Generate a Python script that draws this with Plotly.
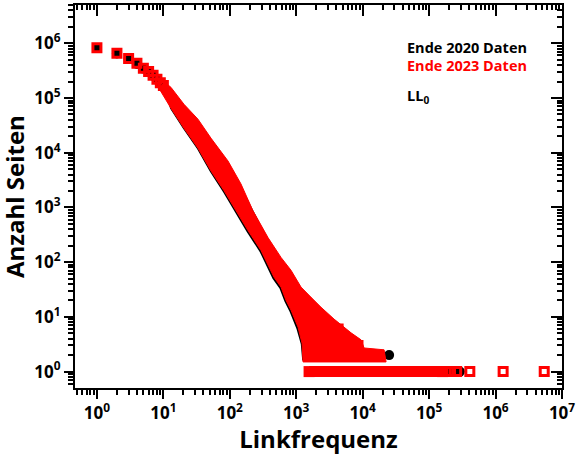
import plotly.graph_objects as go

# Linkfrequenz-Verteilung: Kopf der Verteilung (Einzelpunkte)
head_freq = [1, 2, 3, 4, 5, 6, 7, 8, 9, 10]
head_2020 = [8.2e5, 6.5e5, 5.2e5, 4.2e5, 3.45e5, 3.0e5, 2.55e5, 2.15e5, 1.85e5, 1.6e5]
head_2023 = [8.3e5, 6.6e5, 5.3e5, 4.3e5, 3.5e5, 3.05e5, 2.6e5, 2.2e5, 1.9e5, 1.7e5]

# dichte Punktwolke 2023: obere und untere Kante
band23_upper_x = [10.2, 13, 20.4, 33.2, 52, 94, 147, 223, 376, 590, 835, 1180, 1670, 2360,
                  3710, 4730, 6690, 9460, 10500, 21000, 22500]
band23_upper_y = [2.0e5, 1.57e5, 7.7e4, 4.1e4, 1.85e4, 7060, 2700, 871, 281, 122, 71, 35, 22.8, 15,
                  9.1, 7.1, 5.1, 3.8, 2.7, 2.5, 1.5]
band23_lower_x = [8.6, 13, 20.4, 33, 52, 82, 116, 188, 295, 463, 590, 702, 835, 1064, 1222, 1265]
band23_lower_y = [1.5e5, 6.5e4, 2.8e4, 1.22e4, 4650, 2010, 988, 377, 163, 53, 35, 20, 13.2, 6.5, 3.3, 1.5]

# dichte Punktwolke 2020: obere und untere Kante
band20_upper_x = [10, 30, 100, 300, 1000, 3000, 10000, 20000]
band20_upper_y = [1.9e5, 4.5e4, 6000, 450, 30, 6, 2.6, 1.6]
band20_lower_x = [12.6, 19.8, 32, 50.5, 79, 112, 180, 282, 440, 560, 668, 795, 1010, 1170, 1230]
band20_lower_y = [6.4e4, 2.75e4, 1.18e4, 4450, 1920, 940, 357, 154, 50, 33, 18.8, 12.4, 6, 3.2, 1.6]

# Seiten mit genau einer Verlinkung (Zeile y=1) und Einzelpunkte im Schwanz
row1_2020_x = [1700, 2.9e5]
row1_2023_x = [1560, 1.6e5]
tail_2020_x = [2.5e4, 1.8e5, 2.1e5, 2.9e5]
tail_2020_y = [2, 1, 1, 1]
tail_2023_x = [4270, 8500, 1.8e5, 2.1e5, 2.6e5, 4.1e5, 1.3e6, 5.4e6]
tail_2023_y = [6, 3, 1, 1, 1, 1, 1, 1]

x_ticks = [10 ** e for e in range(0, 8)]
x_ticktext = [f"10<sup>{e}</sup>" for e in range(0, 8)]
y_ticks = [10 ** e for e in range(0, 7)]
y_ticktext = [f"10<sup>{e}</sup>" for e in range(0, 7)]

RED = "#ff0000"
BLACK = "#000000"
FONT = "Open Sans"


def minor_vals(lo, hi):
    return [m * 10 ** e for e in range(lo, hi) for m in range(2, 10)]


fig = go.Figure()

# --- 2020 (schwarz) ---
fig.add_trace(go.Scatter(
    x=band20_upper_x + band20_lower_x[::-1],
    y=band20_upper_y + band20_lower_y[::-1],
    fill="toself", fillcolor=BLACK, mode="lines", line=dict(width=0, color=BLACK),
    hoverinfo="skip", showlegend=False,
))
fig.add_trace(go.Scatter(
    x=row1_2020_x, y=[1] * len(row1_2020_x), mode="lines",
    line=dict(color=BLACK, width=9), showlegend=False,
))
fig.add_trace(go.Scatter(
    x=head_freq + tail_2020_x, y=head_2020 + tail_2020_y, mode="markers",
    marker=dict(symbol="circle", size=10, color=BLACK), showlegend=False,
))

# --- 2023 (rot, offene Quadrate) ---
fig.add_trace(go.Scatter(
    x=band23_upper_x + band23_lower_x[::-1],
    y=band23_upper_y + band23_lower_y[::-1],
    fill="toself", fillcolor=RED, mode="lines", line=dict(width=1, color=RED),
    hoverinfo="skip", showlegend=False,
))
fig.add_trace(go.Scatter(
    x=row1_2023_x, y=[1] * len(row1_2023_x), mode="lines+markers",
    line=dict(color=RED, width=11),
    marker=dict(symbol="square", size=11, color=RED),
    showlegend=False,
))
fig.add_trace(go.Scatter(
    x=head_freq + tail_2023_x, y=head_2023 + tail_2023_y, mode="markers",
    marker=dict(symbol="square-open", size=8, color=RED, line=dict(width=3, color=RED)),
    showlegend=False,
))

# leere Spur fuer die Gegenachsen (Ticks innen oben/rechts)
fig.add_trace(go.Scatter(x=[], y=[], xaxis="x2", yaxis="y2", showlegend=False))

x_range = [-0.33, 7.0]
y_range = [-0.30, 6.70]
tick_font = dict(family=FONT, size=17, color=BLACK, weight="bold")
title_font = dict(family=FONT, size=24, color=BLACK, weight="bold")

common = dict(type="log", showgrid=False, zeroline=False, tickcolor=BLACK, tickwidth=1.5)

fig.update_layout(
    width=578, height=455,
    margin=dict(l=75, r=16, t=3, b=67),
    paper_bgcolor="white", plot_bgcolor="white",
    font=dict(family=FONT, color=BLACK, weight="bold"),
    xaxis=dict(
        **common, range=x_range, tickmode="array", tickvals=x_ticks, ticktext=x_ticktext,
        ticks="outside", ticklen=9, tickfont=tick_font,
        minor=dict(tickmode="array", tickvals=minor_vals(-1, 7), ticks="outside", ticklen=5,
                   tickwidth=1.5, tickcolor=BLACK, showgrid=False),
        showline=True, linecolor=BLACK, linewidth=2, mirror=True,
        title=dict(text="Linkfrequenz", font=title_font, standoff=4),
    ),
    yaxis=dict(
        **common, range=y_range, tickmode="array", tickvals=y_ticks, ticktext=y_ticktext,
        ticks="outside", ticklen=9, tickfont=tick_font,
        minor=dict(tickmode="array", tickvals=minor_vals(-1, 7), ticks="outside", ticklen=5,
                   tickwidth=1.5, tickcolor=BLACK, showgrid=False),
        showline=True, linecolor=BLACK, linewidth=2, mirror=True,
    ),
    xaxis2=dict(
        **common, range=x_range, overlaying="x", side="top", anchor="y2",
        tickmode="array", tickvals=x_ticks, ticks="inside", ticklen=11, showticklabels=False,
        minor=dict(tickmode="array", tickvals=minor_vals(-1, 7), ticks="inside", ticklen=5,
                   tickwidth=1.5, tickcolor=BLACK, showgrid=False),
        showline=False,
    ),
    yaxis2=dict(
        **common, range=y_range, overlaying="y", side="right", anchor="x2",
        tickmode="array", tickvals=y_ticks, ticks="inside", ticklen=11, showticklabels=False,
        minor=dict(tickmode="array", tickvals=minor_vals(-1, 7), ticks="inside", ticklen=5,
                   tickwidth=1.5, tickcolor=BLACK, showgrid=False),
        showline=False,
    ),
    showlegend=False,
)

# y-Achsentitel als Annotation, damit er naeher am Rand sitzt
fig.add_annotation(
    text="Anzahl Seiten", xref="paper", yref="paper", x=-0.124, y=0.5,
    xanchor="center", yanchor="middle", textangle=-90, showarrow=False, font=title_font,
)

legend_items = [("Ende 2020 Daten", BLACK, 0.888), ("Ende 2023 Daten", RED, 0.842),
                ("LL<sub>0</sub>", BLACK, 0.761)]
for text, color, ypos in legend_items:
    fig.add_annotation(
        text=text, xref="paper", yref="paper", x=0.678, y=ypos,
        xanchor="left", yanchor="middle", showarrow=False,
        font=dict(family=FONT, size=14.5, color=color, weight="bold"),
    )

# Seitenrand des Browsers entfernen, damit die Figur bei (0, 0) beginnt
fig.write_html("out.html", config={"displayModeBar": False},
               post_script="document.body.style.margin = '0';")
